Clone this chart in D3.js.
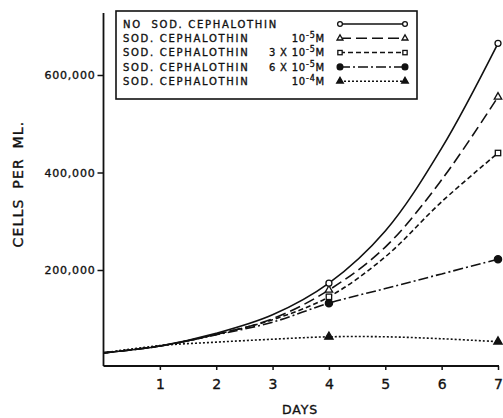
<!DOCTYPE html>
<html>
<head>
<meta charset="utf-8">
<script src="https://cdn.jsdelivr.net/npm/d3@7/dist/d3.min.js"></script>
<style>
  body { margin: 0; background: #fff; }
  svg text { font-family: "DejaVu Sans", sans-serif; fill: #111; stroke: #111; stroke-width: 0.35; }
</style>
</head>
<body>
<script>
/* DATA */
var days      = [0, 1, 2, 3, 4, 5, 6, 7];
var dayTicks  = [1, 2, 3, 4, 5, 6, 7];
var yTicks    = [200000, 400000, 600000];
var markDays  = [4, 7];

var noDrug  = [30000, 44000, 70000, 108000, 173000, 280000, 450000, 665000];
var ceph1e5 = [30000, 44000, 68000, 100000, 159000, 247000, 385000, 555000];
var ceph3e5 = [30000, 44000, 68000,  98000, 145000, 227000, 340000, 440000];
var ceph6e5 = [30000, 44000, 67000,  93000, 132000, 162000, 192000, 222000];
var ceph1e4 = [30000, 45000, 52000,  58000,  63000,  63000,  59000,  53000];

var seriesNames = ['NO  SOD. CEPHALOTHIN', 'SOD. CEPHALOTHIN', 'SOD. CEPHALOTHIN', 'SOD. CEPHALOTHIN', 'SOD. CEPHALOTHIN'];
var concPrefix  = ['', '', '3 X ', '6 X ', ''];
var concExp     = ['', '-5', '-5', '-5', '-4'];

/* STYLE */
var w = 503, h = 418;
var series = [
  { vals: noDrug,  dash: null,          mark: 'circle',   fill: false },
  { vals: ceph1e5, dash: '11,5',        mark: 'triangle', fill: false },
  { vals: ceph3e5, dash: '5,3',         mark: 'square',   fill: false },
  { vals: ceph6e5, dash: '10,3,2,3',    mark: 'circle',   fill: true  },
  { vals: ceph1e4, dash: '2,2',         mark: 'triangle', fill: true  }
];

var x = d3.scaleLinear().domain([0, 7]).range([103.5, 498]);
var y = d3.scaleLinear().domain([0, 600000]).range([367.5, 75]);

var svg = d3.select('body').append('svg')
  .attr('width', w).attr('height', h);

/* AXES */
var yAxis = d3.axisLeft(y).tickValues(yTicks).tickSize(6).tickPadding(2)
  .tickFormat(d3.format(','));
var gy = svg.append('g').attr('transform', 'translate(' + x(0) + ',0)').call(yAxis);
gy.select('.domain').remove();
gy.selectAll('.tick line').attr('stroke', '#111').attr('stroke-width', 1.5);
gy.selectAll('.tick text').attr('font-size', 11).attr('letter-spacing', 0.8).attr('dy', '0.35em');

var xAxis = d3.axisBottom(x).tickValues(dayTicks).tickSize(4).tickPadding(9)
  .tickFormat(d3.format('d'));
var gx = svg.append('g').attr('transform', 'translate(0,366)').call(xAxis);
gx.select('.domain').remove();
gx.selectAll('.tick line').attr('stroke', '#111').attr('stroke-width', 1.5);
gx.selectAll('.tick text').attr('font-size', 14);

svg.append('line')
  .attr('x1', x(0)).attr('x2', x(0)).attr('y1', 13).attr('y2', 366)
  .attr('stroke', '#111').attr('stroke-width', 1.8);
svg.append('line')
  .attr('x1', x(0)).attr('x2', x(7) + 1).attr('y1', 366).attr('y2', 366)
  .attr('stroke', '#111').attr('stroke-width', 1.8);

svg.append('text')
  .attr('x', 300).attr('y', 414)
  .attr('text-anchor', 'middle').attr('font-size', 12.5).attr('letter-spacing', 0.8)
  .text('DAYS');

svg.append('text')
  .attr('transform', 'translate(23,184) rotate(-90)')
  .attr('text-anchor', 'middle').attr('font-size', 14).attr('letter-spacing', 1.2)
  .attr('word-spacing', 4)
  .text('CELLS PER ML.');

/* MARKERS */
function drawMark(g, kind, filled, cx, cy, scale) {
  var k = scale || 1, m;
  if (kind === 'circle') {
    m = g.append('circle').attr('cx', cx).attr('cy', cy).attr('r', (filled ? 3.6 : 3) * k);
  } else if (kind === 'square') {
    m = g.append('rect').attr('x', cx - 2.7 * k).attr('y', cy - 2.7 * k)
      .attr('width', 5.4 * k).attr('height', 5.4 * k);
  } else {
    m = g.append('path').attr('d', d3.symbol().type(d3.symbolTriangle).size((filled ? 30 : 24) * k * k)())
      .attr('transform', 'translate(' + cx + ',' + cy + ')');
  }
  m.attr('fill', filled ? '#111' : '#fff').attr('stroke', '#111').attr('stroke-width', 1.3);
}

/* CURVES */
var line = d3.line()
  .x(function(d, i){ return x(days[i]); })
  .y(function(d){ return y(d); })
  .curve(d3.curveCatmullRom.alpha(0.5));

var plot = svg.append('g');
series.slice().reverse().forEach(function(s){
  plot.append('path')
    .attr('d', line(s.vals))
    .attr('fill', 'none')
    .attr('stroke', '#111')
    .attr('stroke-width', 1.6)
    .attr('stroke-dasharray', s.dash);
});
series.slice().reverse().forEach(function(s){
  markDays.forEach(function(d){
    drawMark(plot, s.mark, s.fill, x(d), y(s.vals[days.indexOf(d)]));
  });
});

/* LEGEND */
var lg = svg.append('g');
lg.append('rect')
  .attr('x', 116).attr('y', 11).attr('width', 301).attr('height', 88)
  .attr('fill', '#fff').attr('stroke', '#111').attr('stroke-width', 1.6);

series.forEach(function(s, i){
  var cy = 24 + i * 14.3;
  lg.append('text')
    .attr('x', 123).attr('y', cy + 3.8)
    .attr('font-size', 10).attr('letter-spacing', 1.7)
    .attr('xml:space', 'preserve')
    .text(seriesNames[i]);
  if (concExp[i]) {
    var t = lg.append('text')
      .attr('x', 325).attr('y', cy + 3.8)
      .attr('text-anchor', 'end')
      .attr('font-size', 10).attr('letter-spacing', 0.8);
    t.append('tspan').text(concPrefix[i] + '10');
    t.append('tspan').attr('dy', -4).attr('font-size', 8).text(concExp[i]);
    t.append('tspan').attr('dy', 4).text('M');
  }
  lg.append('line')
    .attr('x1', 340).attr('x2', 405).attr('y1', cy).attr('y2', cy)
    .attr('stroke', '#111').attr('stroke-width', 1.5)
    .attr('stroke-dasharray', s.dash);
  drawMark(lg, s.mark, s.fill, 340, cy, 0.8);
  drawMark(lg, s.mark, s.fill, 405, cy, 0.8);
});
</script>
</body>
</html>
